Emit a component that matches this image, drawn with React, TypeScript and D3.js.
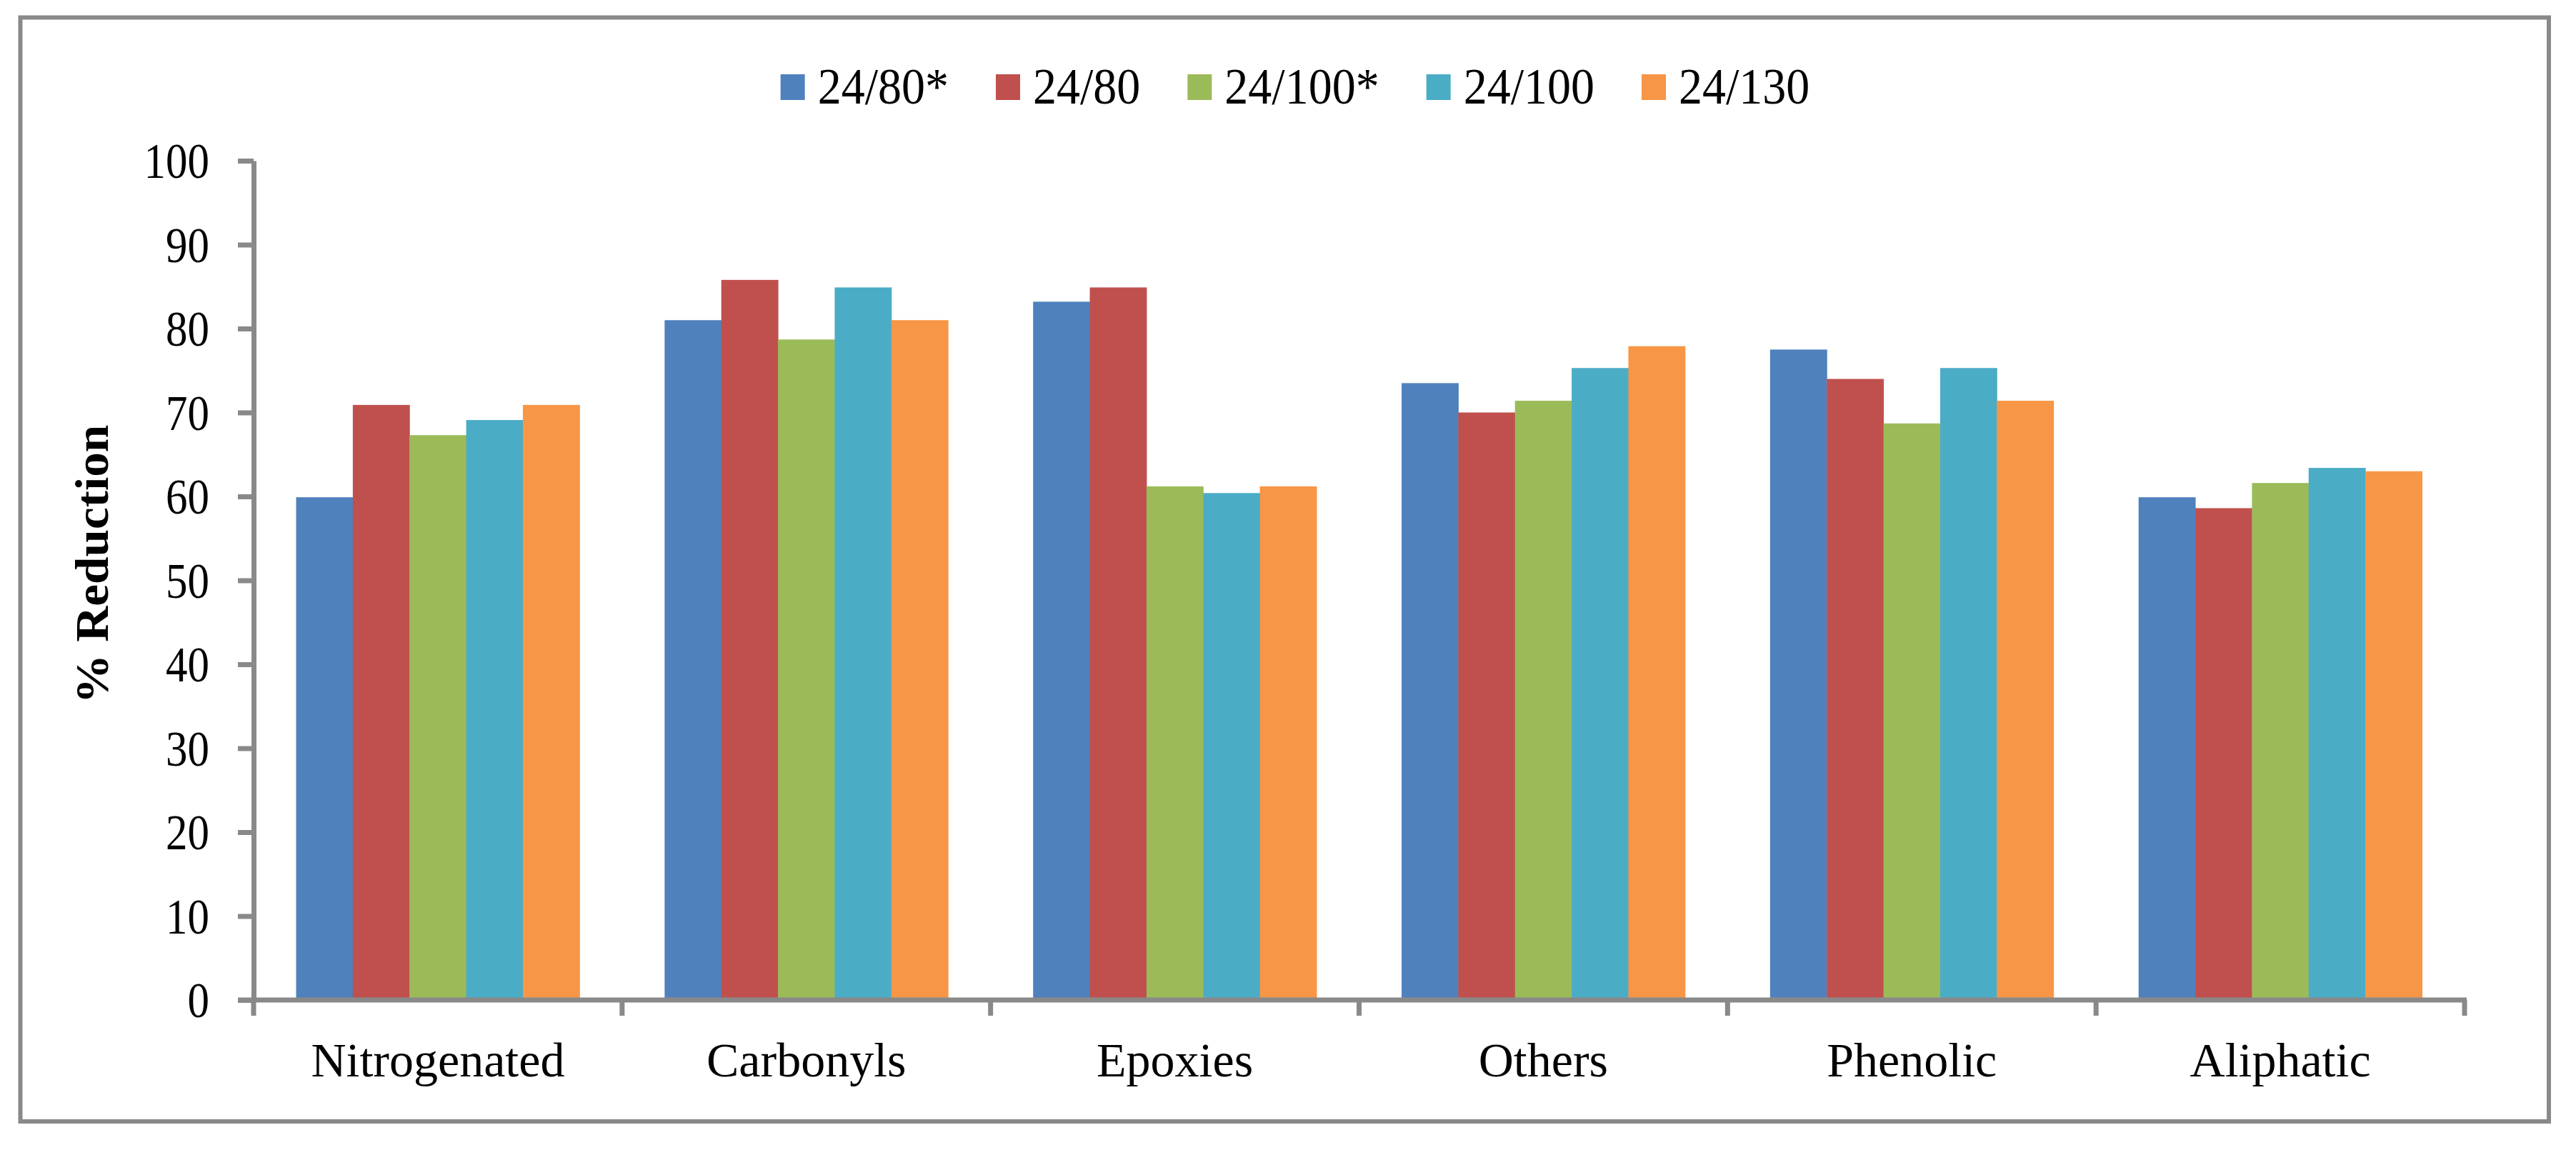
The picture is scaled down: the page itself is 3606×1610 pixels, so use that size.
import React, { useRef, useEffect } from 'react';
import * as d3 from 'd3';

const categories = ['Nitrogenated', 'Carbonyls', 'Epoxies', 'Others', 'Phenolic', 'Aliphatic'];
const seriesNames = ['24/80*', '24/80', '24/100*', '24/100', '24/130'];
const s2480star = [59.9, 81.0, 83.2, 73.5, 77.5, 59.9];
const s2480 = [70.9, 85.8, 84.9, 70.0, 74.0, 58.6];
const s24100star = [67.3, 78.7, 61.2, 71.4, 68.7, 61.6];
const s24100 = [69.1, 84.9, 60.4, 75.3, 75.3, 63.4];
const s24130 = [70.9, 81.0, 61.2, 77.9, 71.4, 63.0];
const colors = ['#4F81BD', '#C0504D', '#9BBB59', '#4BACC6', '#F79646'];
const yTicks = [0, 10, 20, 30, 40, 50, 60, 70, 80, 90, 100];

const W = 3606;
const H = 1610;
const FONT = '"Liberation Serif", "Times New Roman", serif';
const GRAY = '#898989';

const App = () => {
  const ref = useRef<SVGSVGElement>(null);
  useEffect(() => {
    document.body.style.margin = '0';
    const svg = d3.select(ref.current);
    svg.selectAll('*').remove();

    const allSeries = [s2480star, s2480, s24100star, s24100, s24130];
    const plot = { left: 355, right: 3450, top: 225, bottom: 1400 };

    // outer frame
    svg.append('rect').attr('x', 28.5).attr('y', 24.5).attr('width', 3568 - 28.5).attr('height', 1570 - 24.5)
      .attr('fill', 'white').attr('stroke', GRAY).attr('stroke-width', 6);

    const x0 = d3.scaleBand().domain(categories).range([plot.left, plot.right]).paddingInner(0).paddingOuter(0);
    const gap = 1.5; // excel gap width 150%
    const barW = x0.bandwidth() / (seriesNames.length + gap);
    const y = d3.scaleLinear().domain([0, 100]).range([plot.bottom, plot.top]);

    // bars
    allSeries.forEach((vals, si) => {
      svg.append('g').selectAll('rect').data(vals).join('rect')
        .attr('x', (d, i) => x0(categories[i]) + barW * gap / 2 + si * barW)
        .attr('y', d => y(d))
        .attr('width', barW + 0.5)
        .attr('height', d => y(0) - y(d))
        .attr('fill', colors[si]);
    });

    // y axis
    const yAxis = d3.axisLeft(y).tickValues(yTicks).tickSize(22).tickSizeOuter(0).tickPadding(40);
    const gy = svg.append('g').attr('transform', `translate(${plot.left},0)`).call(yAxis);
    gy.select('.domain').attr('stroke', GRAY).attr('stroke-width', 7);
    gy.selectAll('.tick line').attr('stroke', GRAY).attr('stroke-width', 7);
    gy.selectAll('.tick text').attr('fill', 'black').style('font-family', FONT).style('font-size', '61px')
      .attr('dy', '0.34em').attr('transform', 'scale(1,1.15)');

    // x axis
    const gx = svg.append('g').attr('transform', `translate(0,${plot.bottom})`);
    gx.append('line').attr('x1', plot.left - 22).attr('x2', plot.right + 3).attr('y1', 0).attr('y2', 0)
      .attr('stroke', GRAY).attr('stroke-width', 7);
    const edges = d3.range(categories.length + 1).map(i => plot.left + i * x0.step());
    gx.selectAll('line.ct').data(edges).join('line').attr('class', 'ct')
      .attr('x1', d => d).attr('x2', d => d).attr('y1', 0).attr('y2', 22)
      .attr('stroke', GRAY).attr('stroke-width', 7);
    gx.selectAll('text').data(categories).join('text')
      .attr('x', d => x0(d) + x0.bandwidth() / 2).attr('y', 107)
      .attr('text-anchor', 'middle').style('font-family', FONT).style('font-size', '68px').text(d => d);

    // y title
    svg.append('text').attr('transform', `translate(151,${790}) rotate(-90) scale(1.05,1)`)
      .attr('text-anchor', 'middle').style('font-family', FONT).style('font-size', '66px').style('font-weight', 'bold')
      .text('% Reduction');

    // legend
    const lg = svg.append('g');
    const items = lg.selectAll('g').data(seriesNames).join('g');
    items.append('rect').attr('x', 0).attr('y', -18).attr('width', 34).attr('height', 36).attr('fill', (d, i) => colors[i]);
    items.append('text').attr('x', 52).attr('y', 21).attr('transform', 'scale(1,1.08)')
      .style('font-family', FONT).style('font-size', '66px').text(d => d);
    let cx = 0;
    items.each(function () {
      const t = d3.select(this).select('text').node() as SVGTextElement;
      d3.select(this).attr('transform', `translate(${cx},0)`);
      cx += 52 + t.getComputedTextLength() + 66;
    });
    const total = cx - 66;
    lg.attr('transform', `translate(${1813 - total / 2},122)`);
  }, []);

  return <svg ref={ref} width={W} height={H} style={{ display: 'block', position: 'absolute', left: 0, top: 0 }} />;
};

export default App;
